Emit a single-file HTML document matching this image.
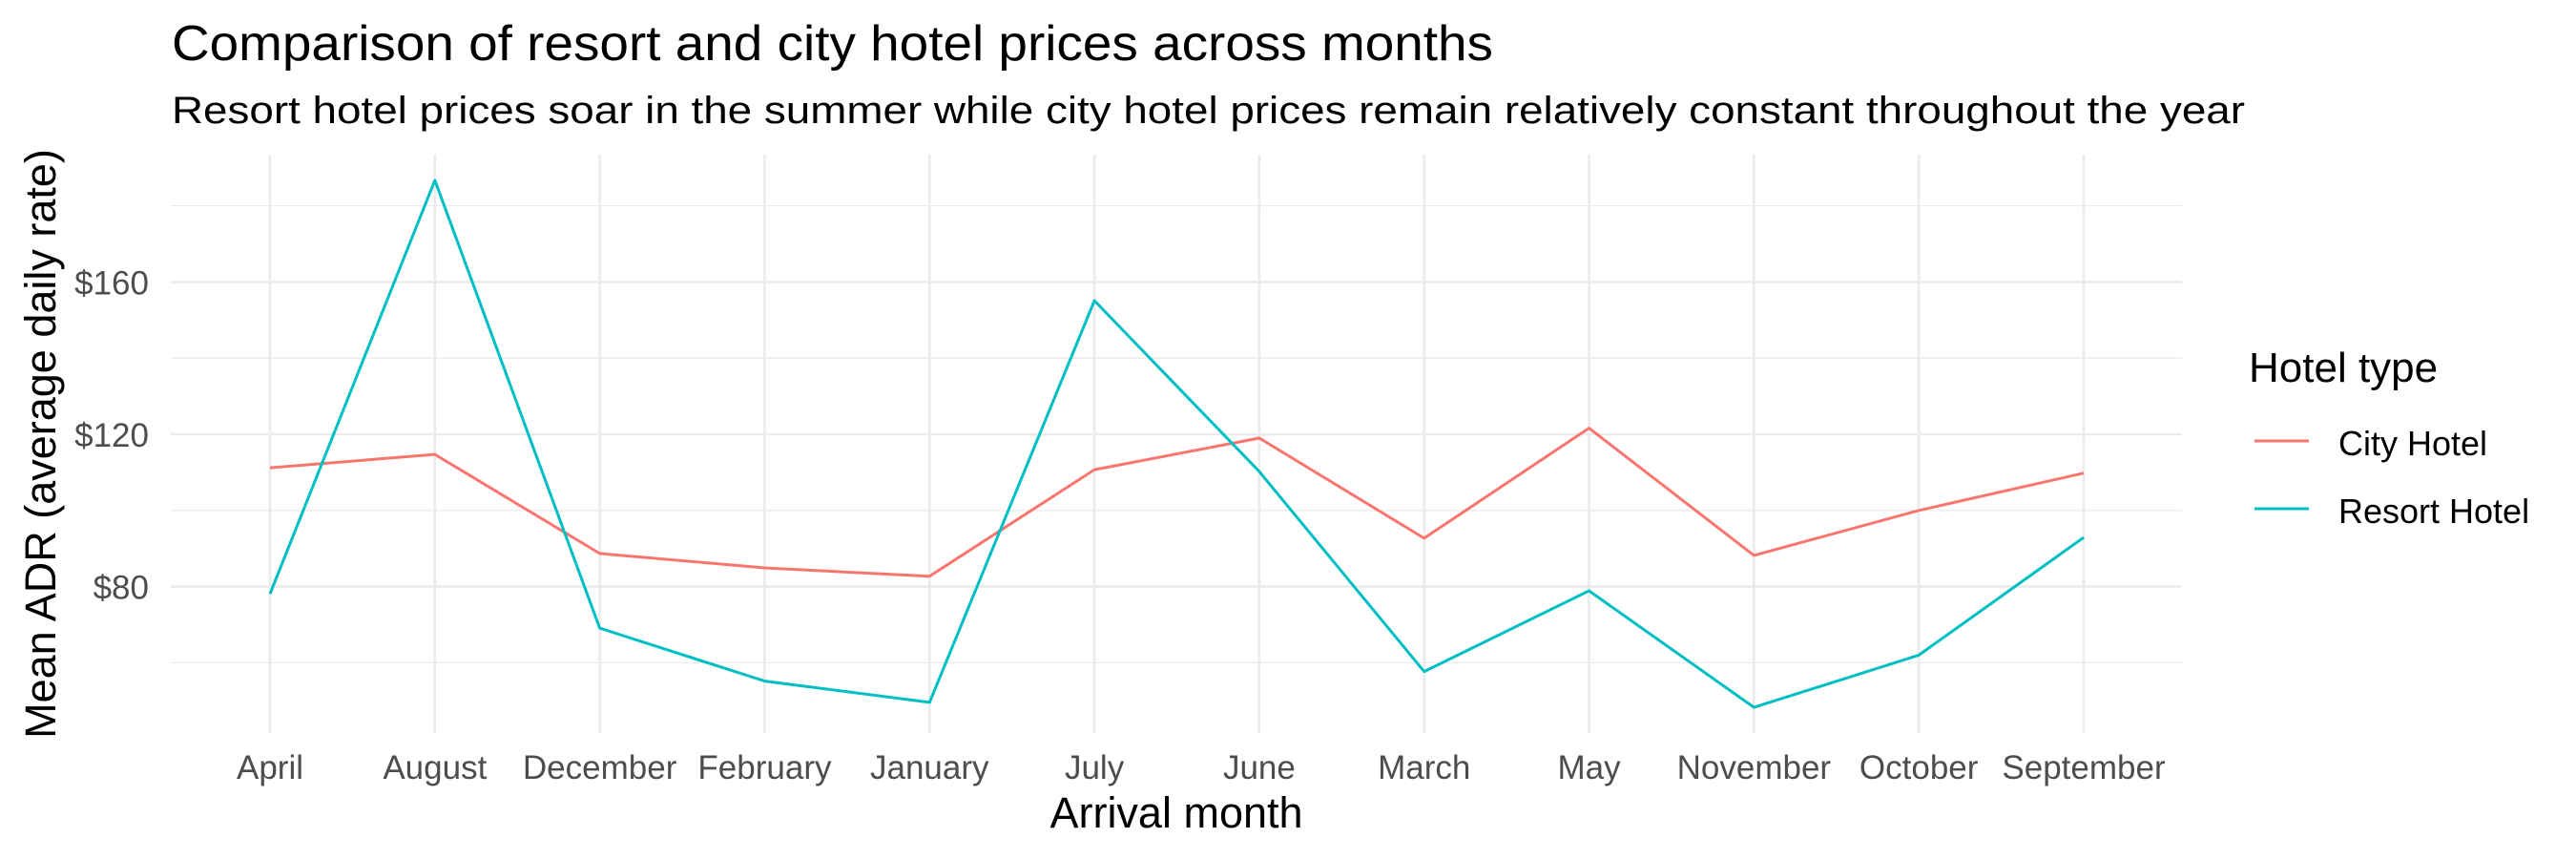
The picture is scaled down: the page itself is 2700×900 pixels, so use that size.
<!DOCTYPE html>
<html><head><meta charset="utf-8"><style>
html,body{margin:0;padding:0;background:#fff;}
svg{display:block;font-family:"Liberation Sans",Arial,sans-serif;}
</style></head><body>
<svg id="chart" width="2700" height="900" viewBox="0 0 2700 900" xmlns="http://www.w3.org/2000/svg">
<rect width="2700" height="900" fill="#fff"/>
<text x="180" y="63" font-size="52" fill="#000" textLength="1385" lengthAdjust="spacingAndGlyphs">Comparison of resort and city hotel prices across months</text>
<text x="180" y="129" font-size="40" fill="#000" textLength="2173" lengthAdjust="spacingAndGlyphs">Resort hotel prices soar in the summer while city hotel prices remain relatively constant throughout the year</text>
<g id="grid"></g>
<g id="yticks"></g>
<g id="xticks"></g>
<g id="series"></g>
<text x="1233" y="867" font-size="45" text-anchor="middle" fill="#000">Arrival month</text>
<text transform="translate(58,465) rotate(-90)" font-size="45" text-anchor="middle" fill="#000">Mean ADR (average daily rate)</text>
<g>
<text x="2357" y="400" font-size="44" fill="#000">Hotel type</text>
<g>
<line x1="2363" y1="462" x2="2420" y2="462" stroke="#F8766D" stroke-width="3"/>
<text x="2451" y="477" font-size="36" fill="#000">City Hotel</text></g>
<g>
<line x1="2363" y1="533" x2="2420" y2="533" stroke="#00BFC4" stroke-width="3"/>
<text x="2451" y="548" font-size="36" fill="#000">Resort Hotel</text></g>
</g>
</svg>
<script>
const categories = ["April","August","December","February","January","July","June","March","May","November","October","September"];
const cityValues = [111.2,114.7,88.7,84.9,82.7,110.7,119.0,92.7,121.6,88.2,100.0,109.8];
const resortValues = [78.1,186.7,69.1,55.2,49.6,155.1,110.2,57.7,78.9,48.3,62.0,92.9];
const majorTicks = [80,120,160];
const minorTicks = [60,100,140,180];
const tickLabels = ["$80","$120","$160"];

const NS="http://www.w3.org/2000/svg";
const panel={left:179,right:2287,top:162,bottom:768};
function xPos(i){return 283 + i*(2184-283)/(categories.length-1);}
function yPos(v){return 455 - (v-120)*3.99;}
function mk(tag,attrs,parent){const e=document.createElementNS(NS,tag);for(const k in attrs)e.setAttribute(k,attrs[k]);parent.appendChild(e);return e;}

const grid=document.getElementById('grid');
minorTicks.forEach(v=>{
  const l=mk('line',{x1:panel.left,x2:panel.right,y1:yPos(v),y2:yPos(v),stroke:'#EBEBEB','stroke-width':1.3},grid);
  
  
});
majorTicks.forEach(v=>{
  const l=mk('line',{x1:panel.left,x2:panel.right,y1:yPos(v),y2:yPos(v),stroke:'#EBEBEB','stroke-width':2.6},grid);
  
  
});
categories.forEach((c,i)=>{
  const l=mk('line',{x1:xPos(i),x2:xPos(i),y1:panel.top,y2:panel.bottom,stroke:'#EBEBEB','stroke-width':2.6},grid);
  
  
});
const yt=document.getElementById('yticks');
majorTicks.forEach((v,i)=>{
  const t=mk('text',{x:156,y:yPos(v)+13,'font-size':35,'text-anchor':'end',fill:'#4D4D4D'},yt);
  t.textContent=tickLabels[i];
  
  
});
const xt=document.getElementById('xticks');
categories.forEach((c,i)=>{
  const t=mk('text',{x:xPos(i),y:816,'font-size':35,'text-anchor':'middle',fill:'#4D4D4D'},xt);
  t.textContent=c;
  
  
});
const sg=document.getElementById('series');
function drawLine(vals,color,name){
  const pts=vals.map((v,i)=>xPos(i).toFixed(1)+','+yPos(v).toFixed(1)).join(' ');
  const p=mk('polyline',{points:pts,fill:'none',stroke:color,'stroke-width':3,'stroke-linejoin':'round'},sg);
  
  
}
drawLine(cityValues,'#F8766D','city-hotel-line');
drawLine(resortValues,'#00BFC4','resort-hotel-line');
</script>
</body></html>
